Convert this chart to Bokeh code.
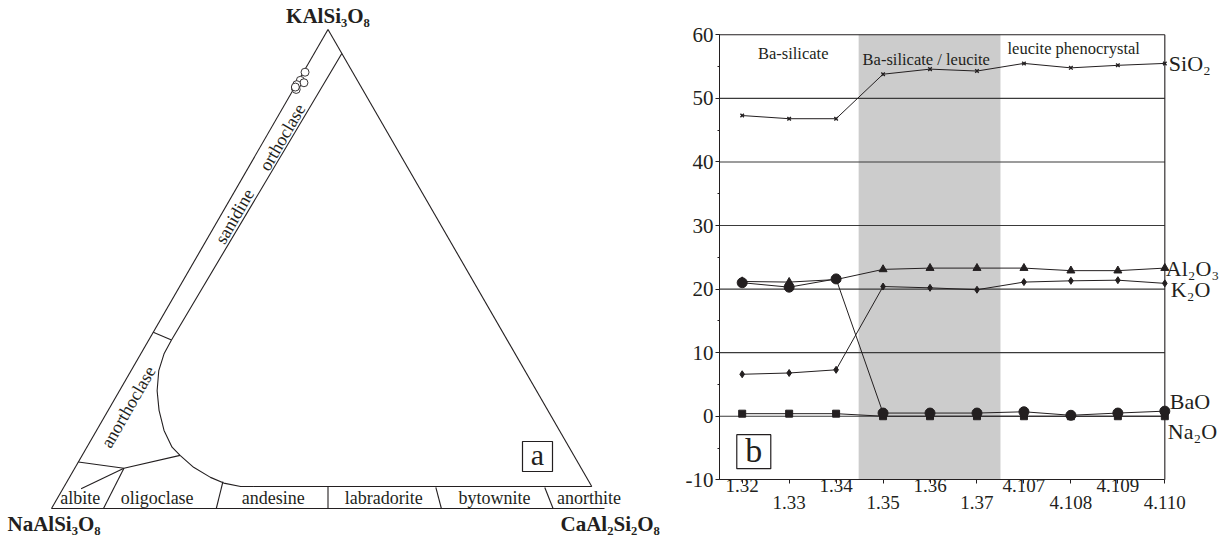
import math
from bokeh.plotting import figure
from bokeh.models import Range1d, Label, BoxAnnotation, LinearAxis, FixedTicker, SingleIntervalTicker
from bokeh.layouts import row
from bokeh.embed import file_html
from bokeh.resources import INLINE
from bokeh.core.properties import value

FONT = "Liberation Serif"
INK = "#231f20"

# ---------------- panel a : feldspar ternary (Or %, An %) ----------------
vertex_labels = ["KAlSi₃O₈", "NaAlSi₃O₈", "CaAl₂Si₂O₈"]
sample_or = [91.1, 89.4, 88.9, 88.5, 87.8, 87.5, 88.0]
sample_an = [0.3, 0.3, 1.2, 0.1, 0.2, 0.5, 0.1]

alkali_inner = [(95.0, 5.0), (35.2, 4.1)]
sanidine_anorthoclase = [(36.8, 0.0), (35.2, 4.1)]
solvus_curve = [(35.2, 4.1), (32.3, 4.2), (28.8, 5.0), (24.6, 6.8), (20.5, 9.2),
                (16.3, 12.2), (12.8, 15.4), (11.1, 17.7), (8.6, 21.4), (6.5, 25.5),
                (5.3, 28.5), (4.6, 31.9), (4.6, 34.3)]
plag_top = [(4.6, 34.3), (4.6, 95.4)]
anorthoclase_albite = [(9.7, 0.0), (8.4, 8.9), (11.1, 17.7)]
albite_tie = [(8.4, 8.9), (4.1, 3.3)]
albite_oligoclase = [(8.4, 8.9), (0.0, 9.4)]
plag_dividers = [[(5.6, 28.2), (0.0, 29.8)],
                 [(4.6, 47.7), (0.0, 50.0)],
                 [(4.4, 67.3), (0.0, 70.5)],
                 [(4.4, 87.0), (0.0, 90.7)]]
plag_names = ["albite", "oligoclase", "andesine", "labradorite", "bytownite", "anorthite"]
plag_name_an = [4.1, 18.0, 39.0, 59.0, 79.0, 96.1]
alkali_names = ["orthoclase", "sanidine", "anorthoclase"]
alkali_name_or = [77.5, 61.0, 21.2]
alkali_name_an = [3.0, 2.6, 3.3]

SQ3 = math.sqrt(3.0)
S = 553.0  # pixels per unit side


def tern(or_, an):
    return (an + or_ / 2.0) / 100.0, or_ * SQ3 / 200.0


def tline(pts):
    xs, ys = zip(*[tern(o, a) for o, a in pts])
    return list(xs), list(ys)


pa = figure(width=670, height=539, output_backend="svg", toolbar_location=None,
            x_range=Range1d(-51 / S, (670 - 51) / S), y_range=Range1d(-31 / S, 508 / S),
            x_axis_location=None, y_axis_location=None,
            min_border=0, min_border_left=0, min_border_right=0,
            min_border_top=0, min_border_bottom=0)
pa.outline_line_color = None
pa.grid.visible = False
pa.background_fill_color = "white"

lw = 1.1
for pts in [[(0.0, 0.0), (100.0, 0.0)], [(0.0, 0.0), (0.0, 100.0)], [(100.0, 0.0), (4.6, 95.4)],
            alkali_inner, sanidine_anorthoclase, solvus_curve, plag_top,
            anorthoclase_albite, albite_tie, albite_oligoclase] + plag_dividers:
    xs, ys = tline(pts)
    pa.line(xs, ys, line_color=INK, line_width=lw)

sx, sy = tline(list(zip(sample_or, sample_an)))
pa.scatter(sx, sy, marker="circle", size=8, fill_color="white", line_color=INK, line_width=0.9)

px, py = tline([(2.2, a) for a in plag_name_an])
pa.text(px, py, text=plag_names, text_font=value(FONT), text_font_size="18px",
        text_align="center", text_baseline="middle", text_color=INK)
ax_, ay_ = tline(list(zip(alkali_name_or, alkali_name_an)))
pa.text(ax_, ay_, text=alkali_names, text_font=value(FONT), text_font_size="18px",
        text_align="center", text_baseline="middle", text_color=INK, angle=math.pi / 3)

pa.text([0.5], [(508 - 15) / S], text=[vertex_labels[0]], text_font=value(FONT),
        text_font_style="bold", text_font_size="21px", text_align="center",
        text_baseline="middle", text_color=INK)
pa.text([-44 / S], [(508 - 523) / S], text=[vertex_labels[1]], text_font=value(FONT),
        text_font_style="bold", text_font_size="21px", text_align="left",
        text_baseline="middle", text_color=INK)
pa.text([509 / S], [(508 - 523) / S], text=[vertex_labels[2]], text_font=value(FONT),
        text_font_style="bold", text_font_size="21px", text_align="left",
        text_baseline="middle", text_color=INK)

pa.scatter([486 / S], [52 / S], marker="square", size=30, fill_color="white",
           line_color=INK, line_width=1.2)
pa.text([486 / S], [52 / S], text=["a"], text_font=value(FONT), text_font_size="30px",
        text_align="center", text_baseline="middle", text_color=INK, y_offset=-2)

# ---------------- panel b : oxide profiles ----------------
samples = ["1.32", "1.33", "1.34", "1.35", "1.36", "1.37", "4.107", "4.108", "4.109", "4.110"]
sio2 = [47.3, 46.8, 46.8, 53.8, 54.6, 54.3, 55.5, 54.8, 55.2, 55.5]
al2o3 = [21.2, 21.1, 21.5, 23.1, 23.3, 23.3, 23.3, 22.9, 22.9, 23.3]
k2o = [6.6, 6.8, 7.3, 20.4, 20.2, 19.9, 21.1, 21.3, 21.4, 20.9]
bao = [21.0, 20.3, 21.6, 0.5, 0.5, 0.5, 0.7, 0.15, 0.5, 0.8]
na2o = [0.4, 0.4, 0.4, 0.0, 0.0, 0.0, 0.0, 0.0, 0.0, 0.0]
series_names = ["SiO₂", "Al₂O₃", "K₂O", "BaO", "Na₂O"]
zone_names = ["Ba-silicate", "Ba-silicate / leucite", "leucite phenocrystal"]
y_ticks = [-10, 0, 10, 20, 30, 40, 50, 60]

xi = list(range(len(samples)))
x_lo, x_hi = -0.483, len(samples) - 1
y_lo, y_hi = y_ticks[0], y_ticks[-1]
XS, YS = 46.96, 6.357  # px per unit in panel b
W_B = 554

pb = figure(width=W_B, height=539, output_backend="svg", toolbar_location=None,
            x_range=Range1d(x_lo - 49 / XS, x_lo + (W_B - 49) / XS),
            y_range=Range1d(y_lo - 59.7 / YS, y_hi + 34.3 / YS),
            x_axis_location=None, y_axis_location=None,
            min_border=0, min_border_left=0, min_border_right=0,
            min_border_top=0, min_border_bottom=0)
pb.outline_line_color = None
pb.grid.visible = False

pb.add_layout(BoxAnnotation(left=2.48, right=5.5, bottom=y_lo, top=y_hi, fill_color="#cccccc",
                            fill_alpha=1.0, line_color=None, level="underlay"))

for v in y_ticks[1:-1]:
    pb.line([x_lo, x_hi], [v, v], line_color="#3a3a3a", line_width=1.1)
pb.line([x_hi, x_hi], [y_lo, y_hi], line_color=INK, line_width=1.1)
pb.line([x_lo, x_hi], [y_hi, y_hi], line_color=INK, line_width=1.1)

yax = LinearAxis(ticker=SingleIntervalTicker(interval=10, num_minor_ticks=2), bounds=(y_lo, y_hi),
                 fixed_location=x_lo,
                 major_label_overrides={v: str(v) for v in y_ticks},
                 major_tick_out=4, major_tick_in=0, minor_tick_out=2, minor_tick_in=0,
                 major_label_standoff=2, major_label_text_font=FONT,
                 major_label_text_font_size="21px", major_label_text_color=INK,
                 axis_line_color=INK, major_tick_line_color=INK, minor_tick_line_color=INK)
pb.add_layout(yax, "left")

xa1 = LinearAxis(ticker=FixedTicker(ticks=xi), bounds=(x_lo, x_hi), fixed_location=y_lo,
                 major_label_overrides={i: (s if i % 2 == 0 else "") for i, s in enumerate(samples)},
                 major_tick_out=4, major_tick_in=0, minor_tick_out=0, minor_tick_in=0,
                 major_label_standoff=-5, major_label_text_font=FONT,
                 major_label_text_font_size="19px", major_label_text_color=INK,
                 axis_line_color=INK, major_tick_line_color=INK)
pb.add_layout(xa1, "below")
xa2 = LinearAxis(ticker=FixedTicker(ticks=xi), fixed_location=y_lo,
                 major_label_overrides={i: (s if i % 2 == 1 else "") for i, s in enumerate(samples)},
                 major_tick_out=0, major_tick_in=0, minor_tick_out=0, minor_tick_in=0,
                 major_label_standoff=16, major_label_text_font=FONT,
                 major_label_text_font_size="19px", major_label_text_color=INK,
                 axis_line_color=None, major_tick_line_color=None)
pb.add_layout(xa2, "below")

pb.line(xi, na2o, line_color=INK, line_width=1)
pb.scatter(xi, na2o, marker="square", size=7, color=INK)
pb.line(xi, k2o, line_color=INK, line_width=1)
pb.scatter(xi, k2o, marker="diamond", size=7, color=INK)
pb.line(xi, al2o3, line_color=INK, line_width=1)
pb.scatter(xi, al2o3, marker="triangle", size=8, color=INK)
pb.line(xi, bao, line_color=INK, line_width=1)
pb.scatter(xi, bao, marker="circle", size=10, color=INK)
pb.line(xi, sio2, line_color=INK, line_width=1)
pb.scatter(xi, sio2, marker="x", size=5, line_color=INK, line_width=1.4)

pb.text([1.086, 3.92, 7.06], [57.06, 56.11, 57.84], text=zone_names, text_font=value(FONT),
        text_font_size="16.5px", text_align="center", text_baseline="middle", text_color=INK)

end_y = [55.5, 23.2, 19.9, 2.36, -2.47]
end_dx = [4, 1, 6, 5, 3]
for name, yv, dx in zip(series_names, end_y, end_dx):
    pb.add_layout(Label(x=x_hi, y=yv, x_offset=dx, text=name, text_font=FONT,
                        text_font_size="22px", text_align="left", text_baseline="middle",
                        text_color=INK))

pb.scatter([0.247], [-5.58], marker="square", size=34, fill_color="white",
           line_color=INK, line_width=1.2)
pb.text([0.247], [-5.58], text=["b"], text_font=value(FONT), text_font_size="34px",
        text_align="center", text_baseline="middle", text_color=INK, y_offset=-1)

layout = row(pa, pb)
open("out.html", "w").write(file_html(layout, INLINE))
